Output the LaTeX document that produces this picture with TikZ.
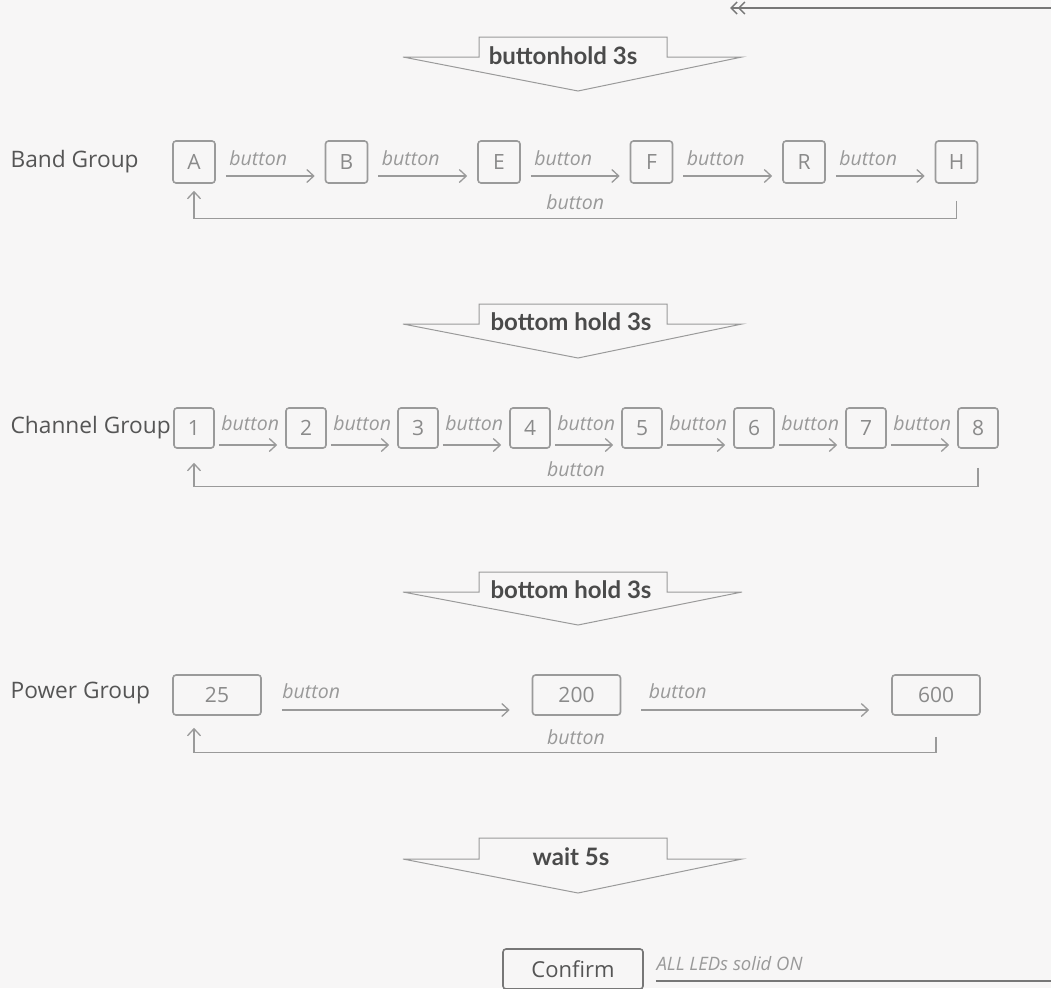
\documentclass[tikz,border=0pt]{standalone}
\usepackage{fontspec}
\setmainfont{Open Sans}
\newfontfamily\latofont{Lato}
\usepackage{xcolor}
\usepackage{tikz}
\usetikzlibrary{arrows.meta}
\usetikzlibrary{calc}
\usetikzlibrary{positioning}

\definecolor{bgcol}{HTML}{F7F6F6}
\definecolor{linecol}{HTML}{9A9A9A}
\definecolor{grpcol}{HTML}{555555}
\definecolor{boxtxt}{HTML}{8A8A8A}
\definecolor{btncol}{HTML}{999999}
\definecolor{holdcol}{HTML}{4A4A4A}
\definecolor{okcol}{HTML}{777777}

\begin{document}
\begin{tikzpicture}[x=1pt,y=-1pt,-,node distance=152.5pt,line width=1.3pt,
  >={Straight Barb[length=7pt,width=13pt]}]
 \tikzstyle{grp}=[font=\fontsize{22.7}{26}\selectfont, text=grpcol, anchor=west, inner sep=0pt]
 \tikzstyle{bandbox}=[draw=linecol, line width=1.6pt, rounded corners=3pt, minimum width=42pt, minimum height=42pt, inner sep=0pt, text=boxtxt, font=\fontsize{21}{24}\selectfont]
 \tikzstyle{chanbox}=[bandbox, minimum width=40pt, minimum height=40pt, node distance=112pt]
 \tikzstyle{powbox}=[bandbox, minimum width=88pt, minimum height=40pt, node distance=359.5pt]
 \tikzstyle{okbox}=[bandbox, draw=okcol, minimum width=140pt, minimum height=40pt, text=grpcol, font=\fontsize{22}{26}\selectfont]
 \tikzstyle{btn}=[font=\itshape\fontsize{19.5}{22}\selectfont, text=btncol, inner sep=0pt]
 \tikzstyle{fwd}=[btn, pos=0, anchor=base west]
 \tikzstyle{go}=[->, linecol]
 \tikzstyle{hold}=[draw=linecol, line width=1pt, fill=bgcol]
 \tikzstyle{holdtxt}=[font=\latofont\bfseries\fontsize{24}{26}\selectfont, text=holdcol, inner sep=0pt]

 \useasboundingbox (0,0) rectangle (1051,988);
 \fill[bgcol] (0,0) rectangle (1051,988);

 % hold arrows
 \draw[hold] (403,57) -- (479,57) -- (479,37) -- (667,37) -- (667,57) -- (742,57) -- (578,91) -- cycle;
 \node[holdtxt] (hold1) at (563,56) {buttonhold 3s};
 \draw[hold] (403,324) -- (479,324) -- (479,304) -- (667,304) -- (667,324) -- (742,324) -- (578,358) -- cycle;
 \node[holdtxt] (hold2) at (571,322) {bottom hold 3s};
 \draw[hold] (403,592) -- (479,592) -- (479,572) -- (667,572) -- (667,592) -- (742,592) -- (578,625) -- cycle;
 \node[holdtxt] (hold3) at (571,590) {bottom hold 3s};
 \draw[hold] (403,859) -- (479,859) -- (479,838) -- (667,838) -- (667,859) -- (742,859) -- (578,893) -- cycle;
 \node[holdtxt] (hold4) at (571,857) {wait 5s};

 % band group
 \node[grp] (bandlbl) at (10,162) {Band Group};
 \node[bandbox] (A) at (194,162) {A};
 \node[bandbox] (B) [right of=A] {B};
 \node[bandbox] (E) [right of=B] {E};
 \node[bandbox] (F) [right of=E] {F};
 \node[bandbox] (R) [right of=F] {R};
 \node[bandbox] (H) [right of=R] {H};

 \path[go, shorten <=10pt, shorten >=10pt]
  ([yshift=-14pt]A.east) edge node[fwd, xshift=13pt, yshift=11pt] {button} ([yshift=-14pt]B.west)
  ([yshift=-14pt]B.east) edge node[fwd, xshift=13pt, yshift=11pt] {button} ([yshift=-14pt]E.west)
  ([yshift=-14pt]E.east) edge node[fwd, xshift=13pt, yshift=11pt] {button} ([yshift=-14pt]F.west)
  ([yshift=-14pt]F.east) edge node[fwd, xshift=13pt, yshift=11pt] {button} ([yshift=-14pt]R.west)
  ([yshift=-14pt]R.east) edge node[fwd, xshift=13pt, yshift=11pt] {button} ([yshift=-14pt]H.west);
 \draw[go] ([yshift=-17pt]H.south) -- ++(0,18) -- node[btn, above=8pt] {button} ([yshift=-35pt]A.south) -- ([yshift=-7pt]A.south);

 % channel group
 \node[grp] (chanlbl) at (10,428) {Channel Group};
 \node[chanbox] (c1) at (194,428) {1};
 \node[chanbox] (c2) [right of=c1] {2};
 \node[chanbox] (c3) [right of=c2] {3};
 \node[chanbox] (c4) [right of=c3] {4};
 \node[chanbox] (c5) [right of=c4] {5};
 \node[chanbox] (c6) [right of=c5] {6};
 \node[chanbox] (c7) [right of=c6] {7};
 \node[chanbox] (c8) [right of=c7] {8};

 \path[go, shorten <=4pt, shorten >=8pt]
  ([yshift=-17pt]c1.east) edge node[fwd, xshift=6pt, yshift=15pt] {button} ([yshift=-17pt]c2.west)
  ([yshift=-17pt]c2.east) edge node[fwd, xshift=6pt, yshift=15pt] {button} ([yshift=-17pt]c3.west)
  ([yshift=-17pt]c3.east) edge node[fwd, xshift=6pt, yshift=15pt] {button} ([yshift=-17pt]c4.west)
  ([yshift=-17pt]c4.east) edge node[fwd, xshift=6pt, yshift=15pt] {button} ([yshift=-17pt]c5.west)
  ([yshift=-17pt]c5.east) edge node[fwd, xshift=6pt, yshift=15pt] {button} ([yshift=-17pt]c6.west)
  ([yshift=-17pt]c6.east) edge node[fwd, xshift=6pt, yshift=15pt] {button} ([yshift=-17pt]c7.west)
  ([yshift=-17pt]c7.east) edge node[fwd, xshift=6pt, yshift=15pt] {button} ([yshift=-17pt]c8.west);
 \draw[go] ([yshift=-19pt]c8.south) -- ++(0,19) -- node[btn, above=9pt, xshift=-10pt] {button} ([yshift=-38pt]c1.south) -- ([yshift=-14pt]c1.south);

 % power group
 \node[grp] (powlbl) at (10,693) {Power Group};
 \node[powbox] (p25) at (217,695) {25};
 \node[powbox] (p200) [right of=p25] {200};
 \node[powbox] (p600) [right of=p200] {600};

 \path[go, shorten <=20pt, shorten >=22pt]
  ([yshift=-15pt]p25.east) edge node[fwd, xshift=20pt, yshift=12pt] {button} ([yshift=-15pt]p200.west)
  ([yshift=-15pt]p200.east) edge node[fwd, xshift=27pt, yshift=12pt] {button} ([yshift=-15pt]p600.west);
 \draw[go] ([yshift=-21pt]p600.south) -- ++(0,16) -- node[btn, above=7pt, xshift=11pt] {button} ([xshift=-23pt,yshift=-37pt]p25.south) -- ([xshift=-23pt,yshift=-12pt]p25.south);

 % confirm and loop back to the top
 \node[okbox] (confirm) at (573,969) {Confirm};
 \coordinate (loopbot) at (1062,981);
 \coordinate (looptop) at (1062,8);
 \coordinate (loopend) at (730,8);
 \draw[draw=okcol, line width=1.5pt, -{Straight Barb[length=6pt,width=12pt] Straight Barb[length=6pt,width=12pt]}]
  ([shift={(12pt,-12pt)}]confirm.east) -- node[fwd, yshift=11pt, font=\itshape\fontsize{18.5}{20}\selectfont] {ALL LEDs solid ON} (loopbot) -- (looptop) -- (loopend);
\end{tikzpicture}
\end{document}
